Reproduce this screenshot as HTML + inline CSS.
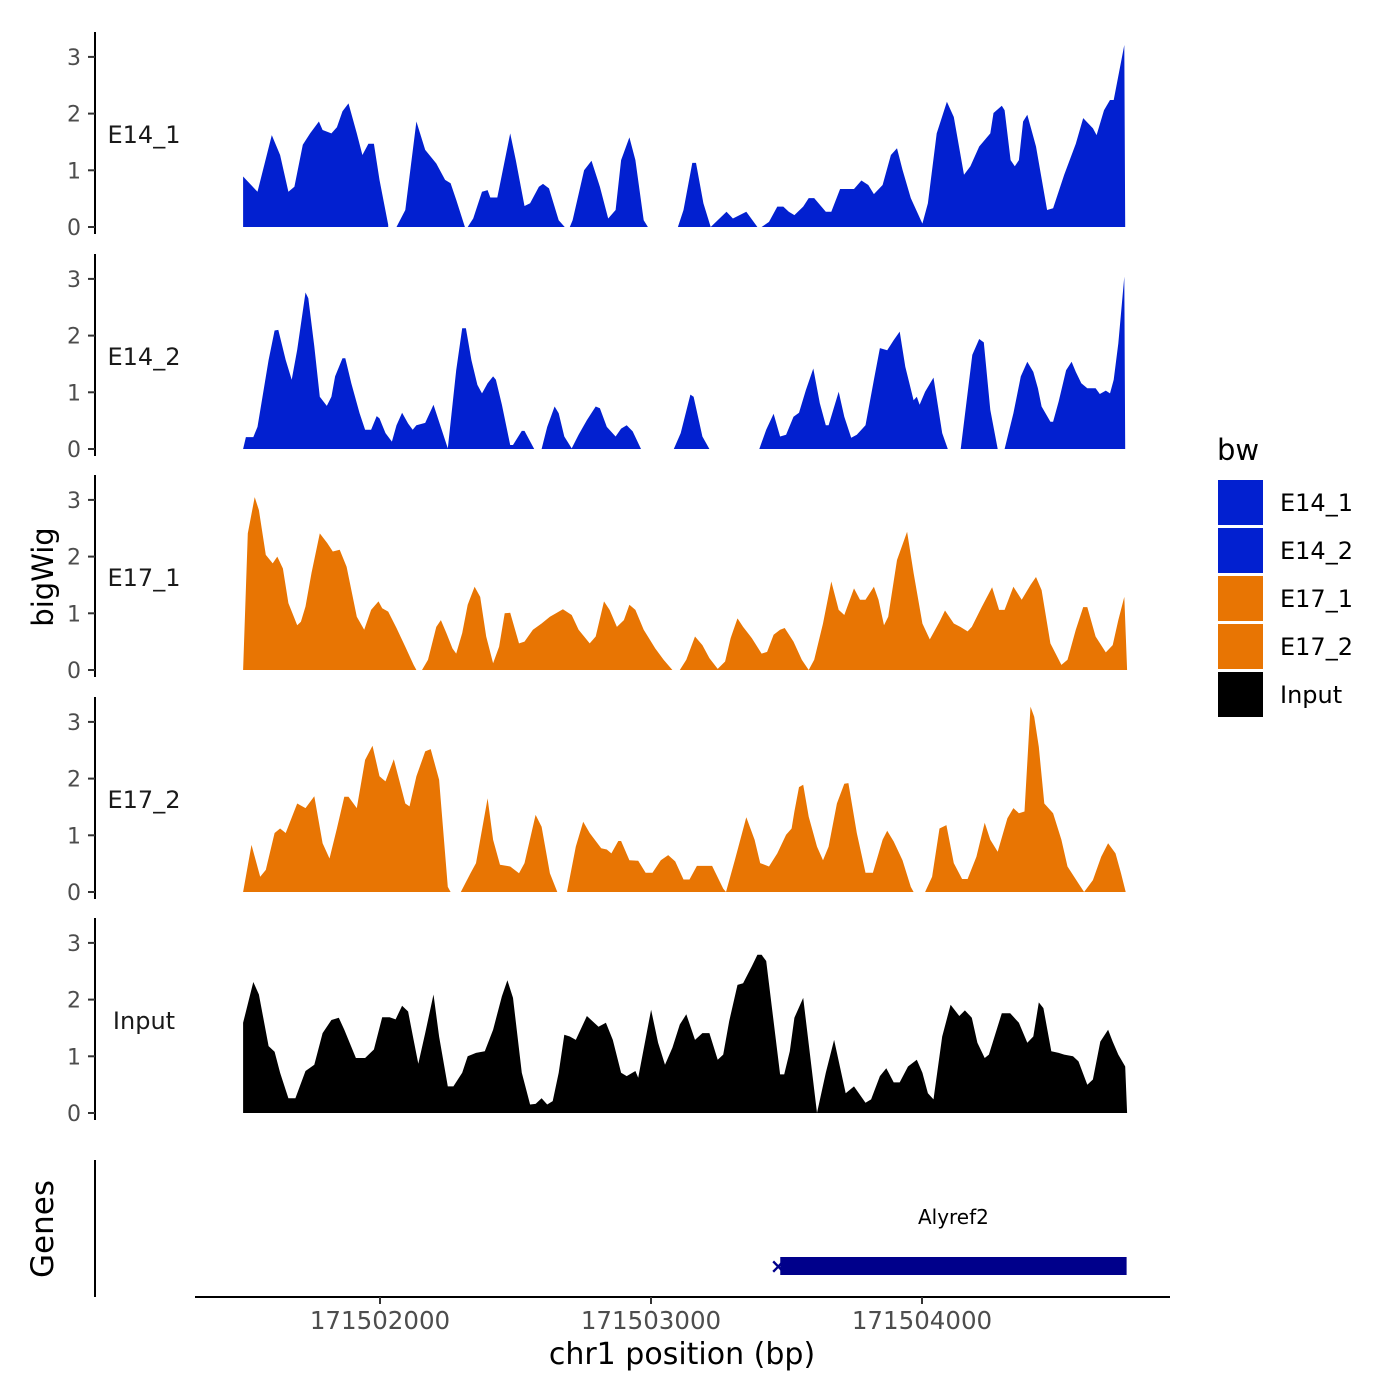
<!DOCTYPE html>
<html><head><meta charset="utf-8">
<style>
html,body{margin:0;padding:0;background:#fff;}
svg{display:block;font-family:"DejaVu Sans","Liberation Sans",sans-serif;}
</style></head>
<body>
<svg id="chart" width="1400" height="1400" viewBox="0 0 1400 1400" xmlns="http://www.w3.org/2000/svg">
<g id="tracks"></g>
<g id="axes"></g>
<text x="0" y="0" transform="translate(53,577) rotate(-90)" text-anchor="middle" font-size="29" fill="#000">bigWig</text>
<text x="0" y="0" transform="translate(53,1229) rotate(-90)" text-anchor="middle" font-size="31" fill="#000">Genes</text>
<line x1="95" y1="1160" x2="95" y2="1297" stroke="#000" stroke-width="2"/>
<text x="682" y="1364" text-anchor="middle" font-size="30" fill="#000">chr1 position (bp)</text>
<g id="legend">
<text x="1217" y="460" font-size="29" fill="#000">bw</text>
</g>
</svg>
<script>
const regionStart = 171501495;
// positions below are given in bins of binBp base pairs from regionStart
const binBp = 1.705;
const xTicks = [171502000, 171503000, 171504000];
const yTicks = [0, 1, 2, 3];
const sampleNames = ["E14_1", "E14_2", "E17_1", "E17_2", "Input"];
const sampleColors = ["#0220D0", "#0220D0", "#E87503", "#E87503", "#000000"];
const geneName = "Alyref2";
const geneStart = 171503477;
const geneEnd = 171504755;

// null value = gap
const posE14_1 = [0,31,62,80,98,111,129,145,164,172,191,203,215,228,246,258,271,283,295,314,325,332,351,375,394,418,437,449,461,480,486,498,517,529,535,550,578,590,609,621,640,649,662,683,696,700,707,713,738,754,772,790,806,818,836,849,867,876,900,941,953,972,980,996,1012,1046,1060,1089,1113,1116,1122,1138,1156,1169,1181,1193,1212,1224,1236,1261,1273,1292,1322,1338,1353,1365,1384,1402,1415,1427,1445,1470,1482,1501,1523,1538,1560,1574,1593,1617,1624,1642,1648,1661,1670,1679,1688,1697,1716,1740,1753,1777,1802,1818,1839,1847,1863,1876,1884,1907,1909];
const valE14_1 = [0.89,0.62,1.62,1.27,0.62,0.71,1.45,1.65,1.86,1.71,1.65,1.76,2.04,2.18,1.65,1.27,1.47,1.47,0.83,0.04,null,0,0.30,1.86,1.36,1.12,0.83,0.77,0.48,0,0,0.15,0.62,0.65,0.52,0.52,1.65,1.18,0.37,0.42,0.71,0.76,0.68,0.12,0,null,0,0.12,1.00,1.17,0.71,0.15,0.30,1.18,1.58,1.18,0.12,0,null,0,0.30,1.13,1.13,0.42,0,0.27,0.15,0.27,0,null,0,0.09,0.36,0.36,0.27,0.21,0.36,0.51,0.51,0.27,0.27,0.67,0.67,0.82,0.74,0.58,0.74,1.27,1.39,1.01,0.51,0.06,0.42,1.65,2.21,1.94,0.92,1.07,1.42,1.65,2.01,2.14,2.06,1.18,1.07,1.18,1.86,1.98,1.42,0.30,0.33,0.92,1.47,1.92,1.74,1.62,2.06,2.24,2.24,3.21,0];

const posE14_2 = [0,6,22,31,55,68,76,92,105,117,135,141,154,166,181,191,199,215,221,234,252,264,277,289,295,308,322,332,344,357,367,375,394,412,443,461,474,482,494,507,517,529,541,547,560,578,584,603,609,630,640,646,658,674,683,695,711,726,744,763,772,787,806,818,830,843,861,880,932,947,968,975,994,1009,1050,1117,1132,1148,1162,1175,1191,1203,1218,1234,1248,1261,1267,1289,1301,1316,1328,1347,1365,1378,1394,1408,1421,1433,1451,1458,1464,1476,1494,1513,1525,1540,1553,1578,1593,1603,1617,1633,1645,1648,1667,1683,1697,1710,1720,1728,1747,1753,1765,1781,1793,1802,1814,1827,1845,1854,1867,1876,1884,1894,1907,1909];
const valE14_2 = [0,0.21,0.21,0.39,1.57,2.09,2.1,1.57,1.22,1.75,2.76,2.66,1.81,0.92,0.76,0.92,1.28,1.6,1.6,1.16,0.63,0.34,0.34,0.58,0.54,0.28,0.13,0.42,0.64,0.45,0.34,0.42,0.46,0.78,0.01,1.39,2.13,2.13,1.57,1.13,0.98,1.16,1.28,1.22,0.78,0.07,0.07,0.32,0.32,0,null,0,0.39,0.75,0.63,0.22,0.01,0.25,0.51,0.75,0.72,0.39,0.22,0.36,0.42,0.31,0,null,0,0.28,0.96,0.92,0.22,0,null,0,0.34,0.62,0.22,0.25,0.57,0.64,1.04,1.42,0.81,0.42,0.42,1.01,0.57,0.2,0.25,0.42,1.22,1.78,1.74,1.92,2.07,1.45,0.86,0.92,0.78,1.01,1.26,0.28,0,null,0,1.66,1.94,1.88,0.69,0,null,0,0.63,1.28,1.54,1.36,1.07,0.75,0.48,0.48,0.84,1.39,1.54,1.36,1.16,1.07,1.07,0.97,1.03,0.98,1.22,1.86,3.04,0];

const posE17_1 = [0,10,25,34,49,64,74,86,98,117,125,135,148,166,182,194,209,224,246,262,277,293,301,314,332,351,369,375,380,387,400,418,428,440,453,461,474,486,501,513,526,541,554,566,578,597,609,627,646,664,677,692,711,726,750,763,781,793,809,824,836,849,867,892,910,929,935,945,959,978,994,1009,1027,1043,1055,1070,1082,1101,1122,1134,1148,1162,1172,1191,1209,1224,1236,1255,1273,1289,1301,1322,1335,1347,1365,1375,1387,1396,1415,1437,1451,1470,1486,1507,1519,1538,1552,1568,1577,1599,1621,1636,1648,1667,1685,1704,1716,1728,1747,1771,1784,1802,1818,1827,1845,1867,1882,1894,1907,1913];
const valE17_1 = [0,2.41,3.05,2.82,2.03,1.88,2.0,1.79,1.18,0.79,0.85,1.12,1.71,2.41,2.24,2.09,2.12,1.82,0.94,0.71,1.06,1.21,1.09,1.03,0.74,0.41,0.09,0,null,0,0.18,0.76,0.88,0.65,0.38,0.29,0.65,1.15,1.47,1.29,0.59,0.12,0.41,1.0,1.01,0.47,0.5,0.71,0.82,0.94,1.0,1.07,0.97,0.71,0.47,0.59,1.21,1.06,0.76,0.88,1.15,1.06,0.71,0.38,0.18,0,null,0,0.18,0.59,0.44,0.21,0.02,0.15,0.56,0.91,0.76,0.56,0.29,0.32,0.62,0.71,0.74,0.5,0.18,0,0.18,0.82,1.56,1.06,0.97,1.44,1.24,1.24,1.47,1.24,0.79,0.94,1.94,2.44,1.71,0.82,0.54,0.85,1.05,0.82,0.76,0.68,0.76,1.12,1.46,1.06,1.06,1.47,1.24,1.5,1.64,1.41,0.47,0.09,0.18,0.71,1.11,1.11,0.59,0.31,0.44,0.88,1.29,0];

const posE17_2 = [0,18,37,49,68,80,92,117,135,154,172,187,203,219,228,246,264,280,295,308,326,351,360,375,394,406,424,443,449,455,471,492,504,529,541,556,578,597,609,633,646,664,680,690,701,720,736,750,775,787,797,812,818,836,855,871,886,904,920,935,953,966,982,1015,1039,1045,1064,1089,1107,1119,1138,1156,1175,1187,1193,1203,1212,1224,1242,1255,1267,1285,1301,1310,1328,1347,1363,1384,1394,1408,1427,1445,1451,1460,1476,1491,1507,1522,1538,1556,1568,1587,1605,1617,1633,1654,1667,1679,1691,1704,1712,1722,1734,1753,1771,1784,1808,1820,1839,1857,1872,1888,1900,1910];
const valE17_2 = [0,0.83,0.27,0.39,1.04,1.12,1.04,1.56,1.48,1.69,0.86,0.59,1.12,1.68,1.68,1.48,2.33,2.58,2.04,1.95,2.34,1.56,1.51,2.04,2.48,2.52,1.98,0.09,0,null,0,0.33,0.51,1.65,0.92,0.48,0.45,0.33,0.51,1.36,1.15,0.33,0,null,0,0.8,1.24,1.04,0.77,0.75,0.68,0.9,0.9,0.56,0.55,0.34,0.34,0.56,0.65,0.54,0.22,0.22,0.46,0.46,0.06,0,0.56,1.32,0.92,0.51,0.45,0.68,1.01,1.12,1.42,1.85,1.89,1.33,0.8,0.56,0.8,1.56,1.91,1.92,1.04,0.34,0.34,0.92,1.08,0.89,0.56,0.09,0,null,0,0.27,1.12,1.18,0.51,0.23,0.23,0.62,1.22,0.92,0.71,1.3,1.48,1.39,1.42,3.27,3.09,2.56,1.56,1.39,0.92,0.45,0.15,0,0.21,0.62,0.86,0.68,0.33,0];

const posInput = [0,22,34,55,68,80,98,113,135,154,172,191,207,219,244,264,283,301,317,330,344,357,369,379,394,412,424,443,455,474,486,504,523,541,560,572,584,603,621,633,646,658,670,683,695,707,720,744,769,785,800,818,830,849,855,883,898,913,929,945,959,978,994,1009,1027,1039,1052,1070,1082,1101,1113,1122,1132,1162,1171,1183,1193,1212,1242,1261,1279,1304,1322,1347,1359,1378,1392,1408,1421,1439,1458,1470,1482,1494,1513,1531,1550,1562,1577,1589,1605,1614,1642,1660,1679,1697,1710,1722,1732,1749,1765,1777,1796,1808,1827,1839,1855,1872,1882,1894,1909,1913];
const valInput = [1.59,2.31,2.09,1.18,1.08,0.71,0.26,0.26,0.74,0.85,1.41,1.64,1.68,1.47,0.97,0.97,1.12,1.69,1.69,1.65,1.89,1.79,1.29,0.87,1.41,2.09,1.35,0.47,0.47,0.71,1.0,1.06,1.09,1.47,2.06,2.34,2.03,0.71,0.15,0.16,0.26,0.15,0.21,0.71,1.38,1.35,1.29,1.71,1.52,1.59,1.29,0.71,0.65,0.74,0.62,1.82,1.24,0.85,1.15,1.56,1.74,1.29,1.41,1.41,0.94,1.03,1.62,2.26,2.29,2.59,2.79,2.79,2.68,0.68,0.68,1.09,1.68,2.03,0,0.71,1.29,0.35,0.47,0.18,0.24,0.65,0.79,0.54,0.54,0.82,0.94,0.71,0.35,0.24,1.35,1.91,1.71,1.81,1.68,1.24,0.97,1.03,1.76,1.76,1.59,1.24,1.35,1.95,1.85,1.09,1.06,1.03,1.0,0.91,0.5,0.59,1.26,1.47,1.26,1.03,0.82,0];

const NS = "http://www.w3.org/2000/svg";
const allPos = [posE14_1, posE14_2, posE17_1, posE17_2, posInput];
const allVal = [valE14_1, valE14_2, valE17_1, valE17_2, valInput];
const baselines = [227, 449, 670, 892, 1113];
const unitPx = 56.7;
function xScale(bp){ return 380 + (bp - 171502000) * 0.271; }
function yScale(v, i){ return baselines[i] - v * unitPx; }

const tracks = document.getElementById('tracks');
const axes = document.getElementById('axes');
allPos.forEach((pos, i) => {
  const vals = allVal[i];
  let segs = [], cur = [];
  for (let k = 0; k < pos.length; k++) {
    if (vals[k] === null) { if (cur.length) segs.push(cur); cur = []; }
    else cur.push([regionStart + pos[k] * binBp, vals[k]]);
  }
  if (cur.length) segs.push(cur);
  segs.forEach(seg => {
    let d = 'M' + xScale(seg[0][0]).toFixed(1) + ',' + baselines[i];
    seg.forEach(p => { d += 'L' + xScale(p[0]).toFixed(1) + ',' + yScale(p[1], i).toFixed(1); });
    d += 'L' + xScale(seg[seg.length-1][0]).toFixed(1) + ',' + baselines[i] + 'Z';
    const path = document.createElementNS(NS, 'path');
    path.setAttribute('d', d);
    path.setAttribute('fill', sampleColors[i]);
    
    
    tracks.appendChild(path);
  });
  const ax = document.createElementNS(NS, 'line');
  ax.setAttribute('x1', 95); ax.setAttribute('x2', 95);
  ax.setAttribute('y1', baselines[i] - 195); ax.setAttribute('y2', baselines[i] + 7);
  ax.setAttribute('stroke', '#000'); ax.setAttribute('stroke-width', 2);
  
  
  axes.appendChild(ax);
  yTicks.forEach(t => {
    const tk = document.createElementNS(NS, 'line');
    tk.setAttribute('x1', 88); tk.setAttribute('x2', 95);
    tk.setAttribute('y1', yScale(t, i)); tk.setAttribute('y2', yScale(t, i));
    tk.setAttribute('stroke', '#333'); tk.setAttribute('stroke-width', 2);
    
    
    axes.appendChild(tk);
    const lb = document.createElementNS(NS, 'text');
    lb.setAttribute('x', 81); lb.setAttribute('y', yScale(t, i) + 8);
    lb.setAttribute('text-anchor', 'end'); lb.setAttribute('font-size', 22); lb.setAttribute('fill', '#4d4d4d');
    lb.textContent = t;
    
    
    axes.appendChild(lb);
  });
  const sl = document.createElementNS(NS, 'text');
  sl.setAttribute('x', 144); sl.setAttribute('y', baselines[i] - 84);
  sl.setAttribute('text-anchor', 'middle'); sl.setAttribute('font-size', 24); sl.setAttribute('fill', '#1a1a1a');
  sl.textContent = sampleNames[i];
  
  
  axes.appendChild(sl);
});

const xl = document.createElementNS(NS, 'line');
xl.setAttribute('x1', 195); xl.setAttribute('x2', 1170); xl.setAttribute('y1', 1297); xl.setAttribute('y2', 1297);
xl.setAttribute('stroke', '#000'); xl.setAttribute('stroke-width', 2);


axes.appendChild(xl);
xTicks.forEach(t => {
  const tk = document.createElementNS(NS, 'line');
  tk.setAttribute('x1', xScale(t)); tk.setAttribute('x2', xScale(t)); tk.setAttribute('y1', 1297); tk.setAttribute('y2', 1304);
  tk.setAttribute('stroke', '#333'); tk.setAttribute('stroke-width', 2);
  
  
  axes.appendChild(tk);
  const lb = document.createElementNS(NS, 'text');
  lb.setAttribute('x', xScale(t)); lb.setAttribute('y', 1329);
  lb.setAttribute('text-anchor', 'middle'); lb.setAttribute('font-size', 24.5); lb.setAttribute('fill', '#4d4d4d');
  lb.textContent = t;
  
  
  axes.appendChild(lb);
});

const gb = document.createElementNS(NS, 'rect');
gb.setAttribute('x', xScale(geneStart)); gb.setAttribute('y', 1257);
gb.setAttribute('width', xScale(geneEnd) - xScale(geneStart)); gb.setAttribute('height', 18);
gb.setAttribute('fill', '#00008B');


axes.appendChild(gb);
const gm = document.createElementNS(NS, 'text');
gm.setAttribute('x', xScale(geneStart) - 2); gm.setAttribute('y', 1273);
gm.setAttribute('text-anchor', 'middle'); gm.setAttribute('font-size', 20); gm.setAttribute('font-weight', 'bold'); gm.setAttribute('fill', '#00008B');
gm.textContent = '×';


axes.appendChild(gm);
const gl = document.createElementNS(NS, 'text');
gl.setAttribute('x', (xScale(geneStart) + xScale(geneEnd)) / 2); gl.setAttribute('y', 1224);
gl.setAttribute('text-anchor', 'middle'); gl.setAttribute('font-size', 20); gl.setAttribute('fill', '#000');
gl.textContent = geneName;


axes.appendChild(gl);

const legend = document.getElementById('legend');
sampleNames.forEach((n, i) => {
  const r = document.createElementNS(NS, 'rect');
  r.setAttribute('x', 1218); r.setAttribute('y', 480 + i * 48);
  r.setAttribute('width', 45); r.setAttribute('height', 45);
  r.setAttribute('fill', sampleColors[i]);
  
  
  legend.appendChild(r);
  const t = document.createElementNS(NS, 'text');
  t.setAttribute('x', 1280); t.setAttribute('y', 511 + i * 48);
  t.setAttribute('font-size', 24); t.setAttribute('fill', '#000');
  t.textContent = n;
  
  
  legend.appendChild(t);
});
</script>
</body></html>
